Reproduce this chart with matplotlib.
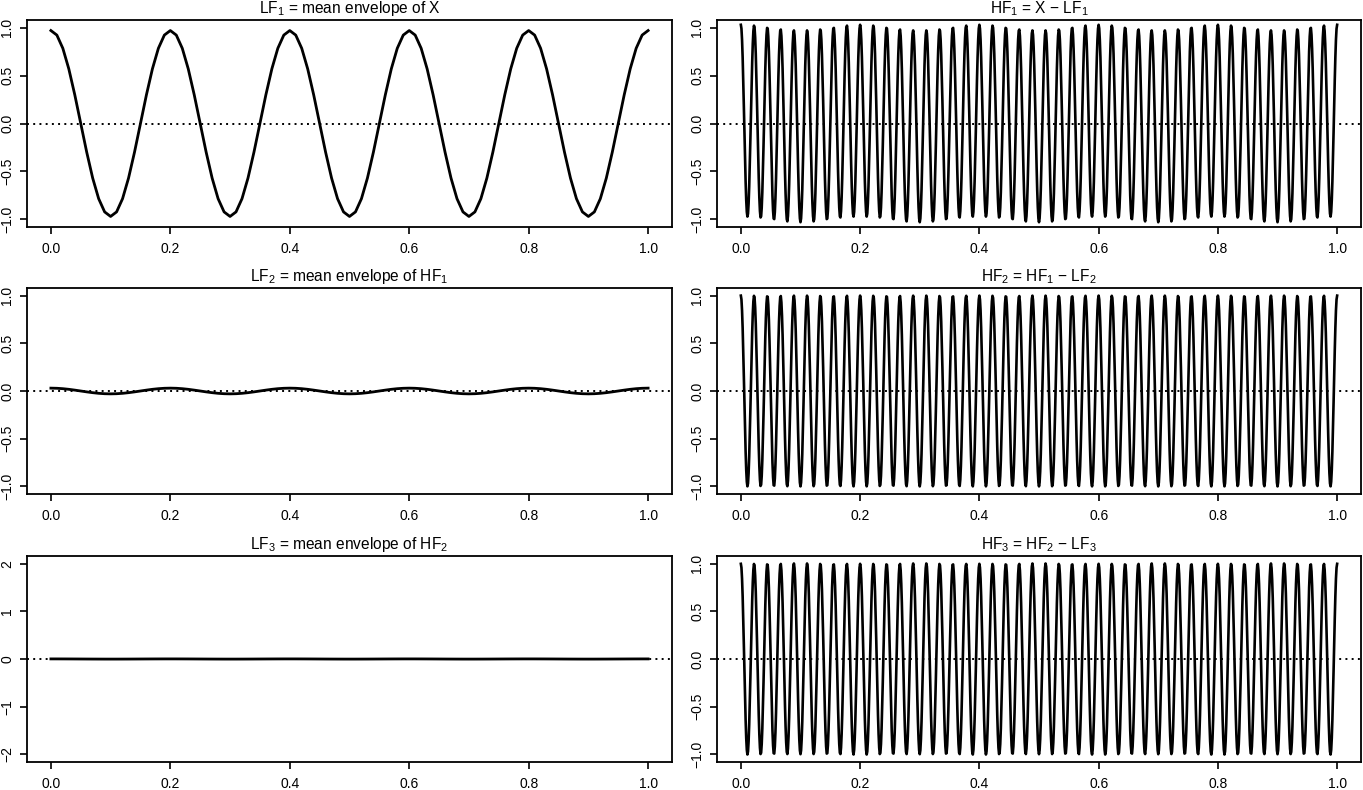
import matplotlib
matplotlib.use("Agg")
import matplotlib.pyplot as plt
import numpy as np

plt.rcParams['font.family'] = ['Liberation Sans', 'DejaVu Sans']
plt.rcParams['mathtext.fontset'] = 'custom'
plt.rcParams['mathtext.rm'] = 'Liberation Sans'
plt.rcParams['mathtext.it'] = 'Liberation Sans'

# values
low_freq = 5        # cycles over [0, 1] of the slow part
high_freq = 45      # cycles over [0, 1] of the fast part
lf1_amp = 0.97      # LF1 peak height
lf2_amp = 0.03      # LF2 peak height (what LF1 missed)
lf3_amp = 0.002     # LF3 is practically flat
hf_amp = 1.0

titles = [r'LF$_1$ = mean envelope of X', 'HF$_1$ = X \u2212 LF$_1$',
          r'LF$_2$ = mean envelope of HF$_1$', 'HF$_2$ = HF$_1$ \u2212 LF$_2$',
          r'LF$_3$ = mean envelope of HF$_2$', 'HF$_3$ = HF$_2$ \u2212 LF$_3$']
x_ticks = [0.0, 0.2, 0.4, 0.6, 0.8, 1.0]
y_ticks_small = [-1.0, -0.5, 0.0, 0.5, 1.0]
y_ticks_big = [-2, -1, 0, 1, 2]

t_lf = np.linspace(0, 1, 101)
t_hf = np.linspace(0, 1, 1001)

lf1 = lf1_amp * np.cos(2 * np.pi * low_freq * t_lf)
lf2 = lf2_amp * np.cos(2 * np.pi * low_freq * t_lf)
lf3 = lf3_amp * np.cos(2 * np.pi * low_freq * t_lf)
hf2 = hf_amp * np.cos(2 * np.pi * high_freq * t_hf)
hf1 = hf2 + lf2_amp * np.cos(2 * np.pi * low_freq * t_hf)
hf3 = hf2 - lf3_amp * np.cos(2 * np.pi * low_freq * t_hf)

series = [(t_lf, lf1), (t_hf, hf1), (t_lf, lf2), (t_hf, hf2), (t_lf, lf3), (t_hf, hf3)]

fig = plt.figure(figsize=(13.63, 7.9), dpi=100)
W, H = 1363.0, 790.0
cols = [(27, 672), (717, 1361)]
rows = [(20, 227), (288, 494), (556, 762)]

for k, (t, y) in enumerate(series):
    r, c = divmod(k, 2)
    x0, x1 = cols[c]
    y0, y1 = rows[r]
    ax = fig.add_axes([x0 / W, 1 - y1 / H, (x1 - x0) / W, (y1 - y0) / H])
    ax.axhline(0, color='black', lw=1.4, linestyle=(0, (1, 2.2)))
    ax.plot(t, y, color='black', lw=1.9 if c == 1 else 2.0)
    ax.set_xlim(-0.04, 1.04)
    if r == 2 and c == 0:
        ax.set_ylim(-2.16, 2.16)
        ax.set_yticks(y_ticks_big)
        ax.set_yticklabels(['\u22122', '\u22121', '0', '1', '2'])
    else:
        ax.set_ylim(-1.08, 1.08)
        ax.set_yticks(y_ticks_small)
        ax.set_yticklabels(['\u22121.0', '\u22120.5', '0.0', '0.5', '1.0'])
    ax.set_xticks(x_ticks)
    ax.set_xticklabels(['%.1f' % v for v in x_ticks])
    ax.tick_params(axis='x', direction='out', length=5, width=1.2, labelsize=10, pad=6)
    ax.tick_params(axis='y', direction='out', length=5, width=1.2, labelsize=10, pad=4,
                   labelrotation=90)
    for lab in ax.get_yticklabels():
        lab.set_va('center')
    for s in ax.spines.values():
        s.set_linewidth(1.3)
    ax.set_title(titles[k], fontsize=11.2, pad=5)

fig.savefig('out.png', dpi=100)
